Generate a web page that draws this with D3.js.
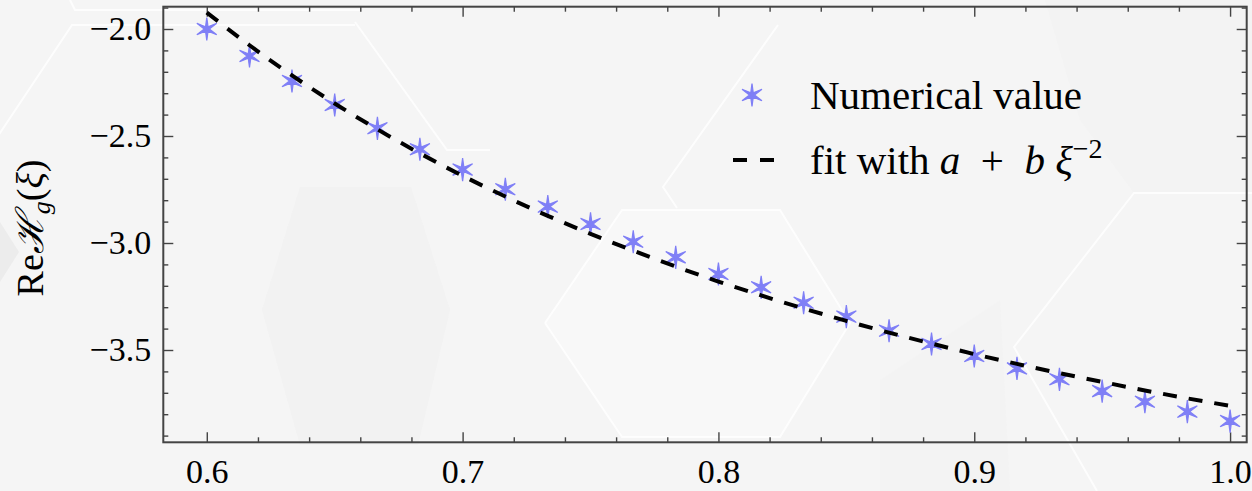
<!DOCTYPE html>
<html>
<head>
<meta charset="utf-8">
<script src="https://cdn.jsdelivr.net/npm/d3@7"></script>
<style>
  html, body { margin: 0; padding: 0; background: #f5f5f5; }
  svg { display: block; }
  text { font-family: "Liberation Serif", "Times New Roman", serif; fill: #000; white-space: pre; }
</style>
</head>
<body>
<svg id="chart" width="1252" height="491"></svg>
<script>
// ---- data ----
const xi = [0.6, 0.6167, 0.6333, 0.65, 0.6667, 0.6833, 0.7, 0.7167, 0.7333, 0.75,
            0.7667, 0.7833, 0.8, 0.8167, 0.8333, 0.85, 0.8667, 0.8833, 0.9, 0.9167,
            0.9333, 0.95, 0.9667, 0.9833, 1.0];
const numericalValue = [-2.00, -2.126, -2.243, -2.355, -2.464, -2.562, -2.657, -2.749, -2.830, -2.911,
                        -2.994, -3.067, -3.145, -3.207, -3.279, -3.344, -3.410, -3.472, -3.528, -3.586,
                        -3.637, -3.692, -3.742, -3.788, -3.832];
const fitValue = [-1.923, -2.076, -2.217, -2.348, -2.469, -2.581, -2.686, -2.783, -2.873, -2.957,
                  -3.036, -3.110, -3.180, -3.245, -3.306, -3.364, -3.419, -3.470, -3.519, -3.565,
                  -3.608, -3.649, -3.689, -3.726, -3.761];
const xTickLabels = ["0.6", "0.7", "0.8", "0.9", "1.0"];
const xMajorTicks = [0.6, 0.7, 0.8, 0.9, 1.0];
const yMajorTicks = [-2.0, -2.5, -3.0, -3.5];
const yTickLabels = ["\u22122.0", "\u22122.5", "\u22123.0", "\u22123.5"];
const legendLabels = ["Numerical value", "fit with"];

// ---- decorative backdrop (faint hexagon pattern) ----
const backdropFills = [
  {pts: [[300,187],[411,187],[450,310],[418,445],[300,445],[262,310]], fill: "#ececec", op: 0.3},
  {pts: [[1045,0],[1252,0],[1252,193],[1134,193],[1080,120]], fill: "#ededed", op: 0.3},
  {pts: [[0,222],[19,252],[0,282]], fill: "#e6e6e6", op: 0.6},
  {pts: [[545,323],[622,210],[780,210],[850,323],[780,437],[622,437]], fill: "#f8f8f8", op: 1},
  {pts: [[880,380],[1000,300],[1010,491],[880,491]], fill: "#efefef", op: 0.3}
];
const backdropLines = [
  [[545,323],[622,210],[780,210],[850,323],[780,437],[622,437],[545,323]],
  [[778,25],[663,187],[677,208]],
  [[1252,193],[1134,193],[1014,347],[1097,491]],
  [[360,10],[75,10],[70,0]],
  [[355,25],[72,25],[-18,160]],
  [[355,22],[447,150],[490,150]]
];

const svg = d3.select("#chart");
const W = 1252, H = 491;
const serif = "Liberation Serif, Times New Roman, serif";

const bg = svg.append("g");
bg.append("rect").attr("width", W).attr("height", H).attr("fill", "#f5f5f5");
bg.selectAll("polygon").data(backdropFills).join("polygon")
  .attr("points", d => d.pts.map(p => p.join(",")).join(" "))
  .attr("fill", d => d.fill).attr("opacity", d => d.op);
bg.selectAll("polyline").data(backdropLines).join("polyline")
  .attr("points", d => d.map(p => p.join(",")).join(" "))
  .attr("fill", "none").attr("stroke", "#ffffff").attr("stroke-width", 2).attr("opacity", 0.8);

// ---- scales ----
const plot = {left: 163.3, right: 1246.7, top: 6.7, bottom: 442.3};
const x = d3.scaleLinear().domain([0.583, 1.0065]).range([plot.left, plot.right]);
const y = d3.scaleLinear().domain([-1.8958, -3.9313]).range([plot.top, plot.bottom]);

const axisColor = "#444";
const xMinor = d3.range(0.6, 1.0001, 0.02).filter(v => xMajorTicks.every(m => Math.abs(m - v) > 1e-6));
const yMinor = d3.range(-1.9, -3.9001, -0.1).filter(v => yMajorTicks.every(m => Math.abs(m - v) > 1e-6));

function styleAxis(g) {
  g.attr("font-family", serif);
  g.select(".domain").remove();
  g.selectAll(".tick line").attr("stroke", axisColor).attr("stroke-width", 1.4);
  g.selectAll(".tick text").style("font-size", "34px").style("font-family", serif).attr("fill", "#000");
}

// bottom major with labels
svg.append("g").attr("transform", `translate(0,${plot.bottom})`)
  .call(d3.axisBottom(x).tickValues(xMajorTicks).tickSize(-10).tickPadding(17)
        .tickFormat((d, i) => xTickLabels[i]))
  .call(styleAxis);
svg.append("g").attr("transform", `translate(0,${plot.bottom})`)
  .call(d3.axisBottom(x).tickValues(xMinor).tickSize(-5).tickFormat(""))
  .call(styleAxis);
// top
svg.append("g").attr("transform", `translate(0,${plot.top})`)
  .call(d3.axisTop(x).tickValues(xMajorTicks).tickSize(-10).tickFormat(""))
  .call(styleAxis);
svg.append("g").attr("transform", `translate(0,${plot.top})`)
  .call(d3.axisTop(x).tickValues(xMinor).tickSize(-5).tickFormat(""))
  .call(styleAxis);
// left
svg.append("g").attr("transform", `translate(${plot.left},0)`)
  .call(d3.axisLeft(y).tickValues(yMajorTicks).tickSize(-10).tickPadding(12)
        .tickFormat((d, i) => yTickLabels[i]))
  .call(styleAxis);
svg.append("g").attr("transform", `translate(${plot.left},0)`)
  .call(d3.axisLeft(y).tickValues(yMinor).tickSize(-5).tickFormat(""))
  .call(styleAxis);
// right
svg.append("g").attr("transform", `translate(${plot.right},0)`)
  .call(d3.axisRight(y).tickValues(yMajorTicks).tickSize(-10).tickFormat(""))
  .call(styleAxis);
svg.append("g").attr("transform", `translate(${plot.right},0)`)
  .call(d3.axisRight(y).tickValues(yMinor).tickSize(-5).tickFormat(""))
  .call(styleAxis);

// frame
svg.append("rect")
  .attr("x", plot.left).attr("y", plot.top)
  .attr("width", plot.right - plot.left).attr("height", plot.bottom - plot.top)
  .attr("fill", "none").attr("stroke", axisColor).attr("stroke-width", 2);

// ---- marks ----
const markerColor = "#7f7ff6";
const star6 = {
  draw(ctx, size) {
    const R = Math.sqrt(size) / 2, r = R * 0.22;
    for (let k = 0; k < 12; k++) {
      const a = -Math.PI / 2 + k * Math.PI / 6;
      const rad = (k % 2 === 0) ? R : r;
      const px = rad * Math.cos(a), py = rad * Math.sin(a);
      if (k === 0) ctx.moveTo(px, py); else ctx.lineTo(px, py);
    }
    ctx.closePath();
  }
};
const starPath = d3.symbol().type(star6).size(23 * 23)();

const line = d3.line().x((d, i) => x(xi[i])).y(d => y(d)).curve(d3.curveMonotoneX);

const marks = svg.append("g");
marks.selectAll("path.star").data(numericalValue).join("path")
  .attr("class", "star")
  .attr("d", starPath)
  .attr("transform", (d, i) => `translate(${x(xi[i])},${y(d)})`)
  .attr("fill", markerColor)
  .attr("stroke", markerColor).attr("stroke-width", 1.2).attr("stroke-linejoin", "miter");

marks.append("path")
  .datum(fitValue)
  .attr("d", line)
  .attr("fill", "none").attr("stroke", "#000").attr("stroke-width", 4)
  .attr("stroke-dasharray", "14 12");

// ---- legend ----
const lg = svg.append("g");
lg.append("path").attr("d", starPath).attr("transform", "translate(752,95)")
  .attr("fill", markerColor).attr("stroke", markerColor).attr("stroke-width", 1.2);
lg.append("text").attr("x", 810).attr("y", 95).attr("dy", "0.35em")
  .style("font-size", "41px").text(legendLabels[0]);
lg.append("line").attr("x1", 733).attr("x2", 775).attr("y1", 160).attr("y2", 160)
  .attr("stroke", "#000").attr("stroke-width", 4).attr("stroke-dasharray", "14 13");
const t2 = lg.append("text").attr("x", 810).attr("y", 160).attr("dy", "0.35em").style("font-size", "41px");
t2.append("tspan").text(legendLabels[1] + "\u00A0");
t2.append("tspan").attr("font-style", "italic").text("a");
t2.append("tspan").text("\u00A0\u00A0+\u00A0\u00A0");
t2.append("tspan").attr("font-style", "italic").text("b");
t2.append("tspan").text("\u00A0");
t2.append("tspan").attr("font-style", "italic").text("\u03BE");
t2.append("tspan").style("font-size", "28px").attr("dy", "-0.6em").text("\u22122");

// ---- y label ----
const yl = svg.append("text").attr("transform", "translate(43,228) rotate(-90)")
  .attr("text-anchor", "middle").style("font-size", "38px");
yl.append("tspan").text("Re");
yl.append("tspan").style("font-family", "DejaVu Serif, serif").attr("font-style", "italic").text("\u210B");
yl.append("tspan").attr("font-style", "italic").style("font-size", "26px").attr("dy", 7).text("g");
yl.append("tspan").attr("dy", -7).text("(");
yl.append("tspan").attr("font-style", "italic").text("\u03BE");
yl.append("tspan").text(")");
</script>
</body>
</html>
